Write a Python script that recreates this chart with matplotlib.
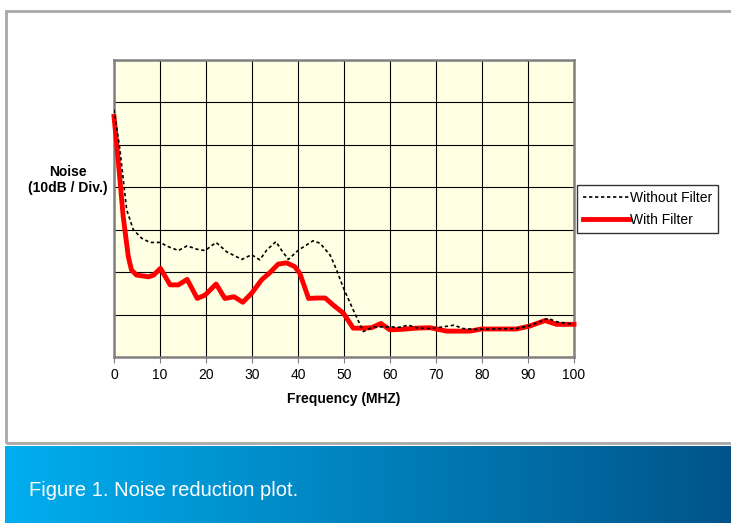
import matplotlib
matplotlib.use("Agg")
import matplotlib.pyplot as plt
import numpy as np
from matplotlib.patches import Rectangle

plt.rcParams['font.family'] = ['Liberation Sans', 'DejaVu Sans']

# data (noise in divisions of 10 dB)
freq_without = [0, 1.3, 2.75, 4.2, 6, 7.8, 10, 11.8, 14, 15.9, 18, 19.8, 22.2, 24.5,
                27.8, 29.9, 31.7, 33.2, 35.2, 36.4, 37.9, 40.1, 43.3, 44.8, 47, 48.4,
                49.9, 52, 54.2, 56.4, 60, 62, 64, 65.8, 68.7, 71.6, 73.9, 75.9, 78.6,
                82, 87.5, 90.4, 94.4, 96.2, 100]
noise_without = [5.83, 4.88, 3.47, 3.0, 2.80, 2.70, 2.70, 2.60, 2.51, 2.62, 2.54, 2.51,
                 2.70, 2.48, 2.30, 2.41, 2.29, 2.52, 2.72, 2.52, 2.30, 2.52, 2.74, 2.68,
                 2.40, 2.05, 1.62, 1.11, 0.60, 0.71, 0.71, 0.70, 0.75, 0.69, 0.67, 0.71,
                 0.75, 0.67, 0.65, 0.66, 0.67, 0.74, 0.91, 0.83, 0.77]

freq_with = [0, 0.9, 2.0, 3.1, 3.8, 4.9, 7.5, 8.6, 10.1, 12.2, 14.0, 15.9, 18.1, 19.8,
             22.2, 24.1, 26.1, 28.0, 29.9, 32.1, 33.9, 35.7, 37.5, 39.3, 40.4, 42.3,
             44.1, 45.9, 47.7, 49.9, 52.0, 53.8, 56.0, 58.0, 60.0, 62.2, 65.8, 68.7,
             72.3, 77.4, 79.9, 87.5, 90.4, 93.7, 96.2, 100]
noise_with = [5.67, 4.65, 3.31, 2.37, 2.05, 1.93, 1.89, 1.93, 2.09, 1.70, 1.70, 1.83,
              1.38, 1.46, 1.72, 1.38, 1.42, 1.29, 1.50, 1.82, 1.99, 2.19, 2.22, 2.13,
              1.97, 1.38, 1.39, 1.39, 1.22, 1.03, 0.68, 0.68, 0.69, 0.79, 0.64, 0.65,
              0.68, 0.69, 0.61, 0.61, 0.66, 0.66, 0.73, 0.86, 0.77, 0.77]

x_ticks = np.arange(0, 101, 10)

W, H = 731, 523
fig = plt.figure(figsize=(W / 100, H / 100), dpi=100)

def fx(px):
    return px / W

def fy(py):
    return 1 - py / H

# outer frame
fig.patches.append(Rectangle((fx(6), fy(443)), fx(760), fy(11) - fy(443),
                             transform=fig.transFigure, fill=False,
                             ec='#a8a8a8', lw=2))

ax = fig.add_axes([fx(114), fy(357), fx(574) - fx(114), fy(60) - fy(357)])
ax.set_facecolor('#ffffe3')
ax.set_xlim(0, 100)
ax.set_ylim(0, 7)
ax.set_xticks(x_ticks)
ax.set_yticks(np.arange(0, 8, 1))
ax.set_yticklabels([])
ax.grid(True, color='black', lw=0.8)
ax.set_axisbelow(True)
for s in ax.spines.values():
    s.set_color('#808080')
    s.set_linewidth(1.8)
ax.tick_params(axis='x', direction='out', length=4, color='#808080', labelsize=10, pad=4)
ax.tick_params(axis='y', length=0)

ax.plot(freq_with, noise_with, color='#ff0000', lw=3.5, solid_joinstyle='round',
        label='With Filter', zorder=3, clip_on=False)
ax.plot(freq_without, noise_without, color='black', lw=1.2, linestyle=(0, (2, 1.6)),
        label='Without Filter', zorder=4)

ax.set_xlabel('Frequency (MHZ)', fontsize=10, fontweight='bold', labelpad=7)
fig.text(fx(68), fy(180), 'Noise\n(10dB / Div.)', fontsize=10, fontweight='bold',
         ha='center', va='center', linespacing=1.2)

h, l = ax.get_legend_handles_labels()
leg = fig.legend(h[::-1], l[::-1], loc='upper left',
                 bbox_to_anchor=(fx(577), fy(185)), bbox_transform=fig.transFigure,
                 fontsize=10, frameon=True, fancybox=False, borderaxespad=0,
                 handlelength=3.3, handletextpad=0.1, borderpad=0.42,
                 labelspacing=0.6)
leg.get_frame().set_edgecolor('black')
leg.get_frame().set_linewidth(1.0)

# caption bar with gradient
bar = fig.add_axes([fx(5), 0, 1 - fx(5), fy(446)])
grad = np.linspace(0, 1, 256)
c0 = np.array([0, 174, 239]) / 255
c1 = np.array([0, 84, 138]) / 255
img = c0[None, :] * (1 - grad[:, None]) + c1[None, :] * grad[:, None]
bar.imshow(img[None, :, :], aspect='auto', extent=(0, 1, 0, 1))
bar.set_axis_off()
bar.text((fx(29) - fx(5)) / (1 - fx(5)), 0.42, 'Figure 1. Noise reduction plot.',
         color='white', fontsize=14.5, ha='left', va='center',
         transform=bar.transAxes)

fig.savefig('out.png', dpi=100)
